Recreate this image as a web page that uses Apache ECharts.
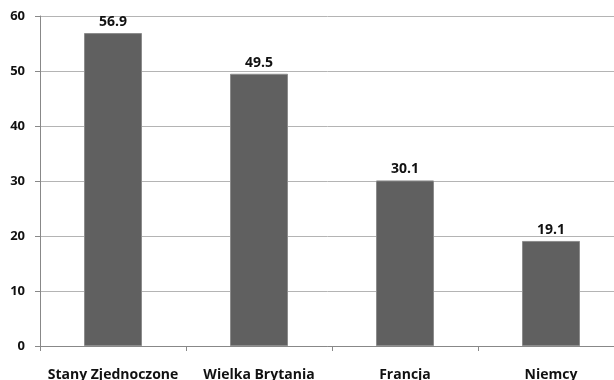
<!DOCTYPE html>
<html>
<head>
<meta charset="utf-8">
<script src="https://cdn.jsdelivr.net/npm/echarts@6/dist/echarts.min.js"></script>
<style>
  html, body { margin: 0; padding: 0; background: #fff; }
  #chart { width: 614px; height: 380px; }
</style>
</head>
<body>
<div id="chart"></div>
<script>
// Countries and their values
const categories = ['Stany Zjednoczone', 'Wielka Brytania', 'Francja', 'Niemcy'];
const values = [56.9, 49.5, 30.1, 19.1];
const yTicks = [0, 10, 20, 30, 40, 50, 60];

const fontFamily = '"Open Sans", "Noto Sans", sans-serif';
const chart = echarts.init(document.getElementById('chart'), null, { renderer: 'canvas' });

chart.setOption({
  animation: false,
  backgroundColor: '#ffffff',
  // plot area runs slightly past the right edge of the canvas; labels may overflow
  grid: { left: 40, top: 16, width: 584, height: 330, containLabel: false, outerBoundsMode: 'none' },
  xAxis: {
    type: 'category',
    data: categories,
    boundaryGap: true,
    axisLine: { lineStyle: { color: '#888888', width: 1 } },
    axisTick: { show: true, alignWithLabel: false, length: 5, lineStyle: { color: '#888888' } },
    axisLabel: {
      margin: 22,
      color: '#111111',
      fontFamily: fontFamily,
      fontWeight: 'bold',
      fontSize: 14,
      interval: 0
    }
  },
  yAxis: {
    type: 'value',
    min: yTicks[0],
    max: yTicks[yTicks.length - 1],
    interval: 10,
    axisLine: { show: true, lineStyle: { color: '#888888', width: 1 } },
    axisTick: { show: true, length: 5, lineStyle: { color: '#888888' } },
    splitLine: { show: true, lineStyle: { color: '#b4b4b4', width: 1 } },
    axisLabel: {
      margin: 15,
      color: '#111111',
      fontFamily: fontFamily,
      fontWeight: 'bold',
      fontSize: 13
    }
  },
  series: [{
    type: 'bar',
    data: values,
    barWidth: 58,
    itemStyle: { color: '#606060', borderColor: '#8c8c8c', borderWidth: 1 },
    label: {
      show: true,
      position: 'top',
      distance: 4,
      color: '#111111',
      fontFamily: fontFamily,
      fontWeight: 'bold',
      fontSize: 14,
      formatter: p => p.value.toFixed(1)
    }
  }]
});
</script>
</body>
</html>
